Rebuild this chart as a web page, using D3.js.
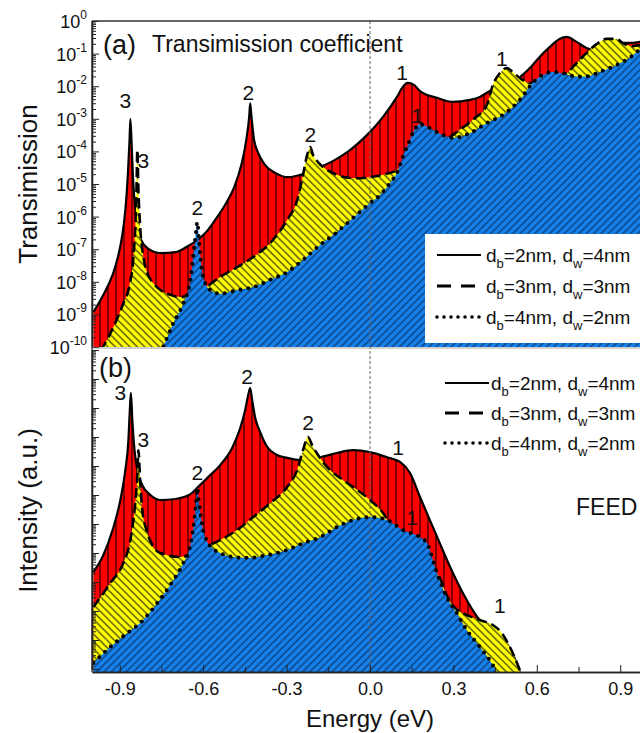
<!DOCTYPE html>
<html>
<head>
<meta charset="utf-8">
<script src="https://cdn.jsdelivr.net/npm/d3@7"></script>
<style>
  html, body { margin: 0; padding: 0; background: #fff; }
  svg { display: block; font-family: "Liberation Sans", Arial, sans-serif; }
</style>
</head>
<body>
<svg id="chart" width="640" height="733"></svg>
<script>
// ---- Transmission coefficient, panel (a): [energy eV, T] ----
const transSolid = [
  [-0.995,1.17e-9],[-0.959,4.0e-9],[-0.926,1.62e-8],[-0.905,6.6e-8],[-0.891,2.75e-7],
  [-0.880,1.58e-6],[-0.871,1.9e-5],[-0.865,2.24e-4],[-0.862,1.0e-3],[-0.858,2.24e-4],
  [-0.853,1.9e-5],[-0.846,2.3e-6],[-0.837,5.5e-7],[-0.823,1.9e-7],[-0.797,1.02e-7],
  [-0.754,7.6e-8],[-0.700,8.1e-8],[-0.654,1.26e-7],[-0.621,1.9e-7],[-0.589,3.4e-7],
  [-0.557,7.9e-7],[-0.521,2.3e-6],[-0.488,8.1e-6],[-0.463,3.8e-5],[-0.445,2.24e-4],
  [-0.434,1.32e-3],[-0.431,3.0e-3],[-0.427,1.32e-3],[-0.417,2.24e-4],[-0.402,8.9e-5],
  [-0.377,3.8e-5],[-0.341,2.2e-5],[-0.294,1.62e-5],[-0.251,1.9e-5],[-0.180,3.3e-5],
  [-0.126,5.5e-5],[-0.072,1.1e-4],[-0.011,3.16e-4],[0.047,1.15e-3],[0.097,4.7e-3],
  [0.118,9.5e-3],[0.136,1.26e-2],[0.158,1.1e-2],[0.180,7.1e-3],[0.241,4.4e-3],
  [0.298,3.3e-3],[0.359,3.8e-3],[0.395,4.7e-3],[0.431,7.1e-3],[0.485,1.17e-2],
  [0.539,1.9e-2],[0.575,3.6e-2],[0.610,7.9e-2],[0.646,0.158],[0.682,0.282],
  [0.707,0.324],[0.743,0.229],[0.779,0.148],[0.808,0.129],[0.851,0.148],
  [0.880,0.182],[0.908,0.214],[0.944,0.214],[0.970,0.229],[0.999,0.263]
];
const transDashed = [
  [-0.969,8e-11],[-0.959,1.07e-10],[-0.923,4.1e-10],[-0.887,2.24e-9],[-0.865,7.9e-9],
  [-0.851,5.75e-8],[-0.844,5.5e-7],[-0.840,6.6e-6],[-0.837,1.1e-4],[-0.833,6.6e-6],
  [-0.826,3.9e-7],[-0.815,5.75e-8],[-0.801,1.86e-8],[-0.779,9.1e-9],[-0.754,5.6e-9],
  [-0.718,4.0e-9],[-0.682,3.4e-9],[-0.646,4.0e-9],[-0.610,5.2e-9],[-0.574,8.5e-9],
  [-0.539,1.41e-8],[-0.478,2.8e-8],[-0.420,5.75e-8],[-0.359,1.55e-7],[-0.298,7.9e-7],
  [-0.262,3.2e-6],[-0.241,1.9e-5],[-0.226,7.8e-5],[-0.215,1.35e-4],[-0.205,7.8e-5],
  [-0.187,4.7e-5],[-0.154,2.7e-5],[-0.108,1.78e-5],[-0.054,1.5e-5],[0.0,1.62e-5],
  [0.054,2.0e-5],[0.097,2.7e-5],[0.151,7.8e-5],[0.215,1.48e-4],[0.276,2.4e-4],
  [0.323,4.6e-4],[0.377,1.05e-3],[0.420,2.6e-3],[0.442,1.1e-2],[0.467,2.5e-2],
  [0.492,3.6e-2],[0.513,2.75e-2],[0.539,1.78e-2],[0.575,1.26e-2],[0.628,1.35e-2],
  [0.671,1.78e-2],[0.707,2.5e-2],[0.743,5.1e-2],[0.779,0.105],[0.815,0.195],
  [0.851,0.282],[0.887,0.282],[0.908,0.214],[0.944,0.170],[0.970,0.182],[0.999,0.195]
];
const transDotted = [
  [-0.772,4e-11],[-0.743,1.07e-10],[-0.707,5.5e-10],[-0.671,2.24e-9],[-0.646,1.15e-8],
  [-0.636,6.6e-8],[-0.628,2.34e-7],[-0.621,6.8e-7],[-0.616,2.34e-7],[-0.610,5.75e-8],
  [-0.600,1.41e-8],[-0.575,5.6e-9],[-0.539,4.3e-9],[-0.478,5.6e-9],[-0.420,6.9e-9],
  [-0.359,1.15e-8],[-0.298,2.0e-8],[-0.241,4.7e-8],[-0.180,1.35e-7],[-0.118,3.4e-7],
  [-0.061,9.1e-7],[0.0,2.6e-6],[0.036,4.6e-6],[0.072,1.07e-5],[0.097,2.2e-5],
  [0.118,6.8e-5],[0.136,1.58e-4],[0.158,4.3e-4],[0.180,6.9e-4],[0.215,5.2e-4],
  [0.262,3.16e-4],[0.298,2.6e-4],[0.359,3.6e-4],[0.420,7.4e-4],[0.478,1.32e-3],
  [0.539,3.8e-3],[0.585,1.26e-2],[0.621,2.2e-2],[0.657,2.75e-2],[0.693,2.5e-2],
  [0.743,2.0e-2],[0.779,2.0e-2],[0.826,2.75e-2],[0.887,4.5e-2],[0.934,7.4e-2],
  [0.970,0.129],[0.999,0.170]
];

// ---- FEED intensity, panel (b): [energy eV, intensity a.u.] ----
const feedSolid = [
  [-0.995,2.2e-8],[-0.959,8.5e-8],[-0.926,6.2e-7],[-0.898,6.7e-6],[-0.880,7.3e-5],
  [-0.869,7.9e-4],[-0.864,8.5e-3],[-0.860,3.3e-2],[-0.855,3.9e-3],[-0.847,3.5e-4],
  [-0.837,7.3e-5],[-0.819,2.2e-5],[-0.790,1.0e-5],[-0.754,6.7e-6],[-0.700,7.3e-6],
  [-0.646,1.07e-5],[-0.618,1.9e-5],[-0.585,3.9e-5],[-0.539,1.07e-4],[-0.496,4.2e-4],
  [-0.467,2.0e-3],[-0.449,8.5e-3],[-0.438,2.8e-2],[-0.431,4.9e-2],[-0.424,1.9e-2],
  [-0.413,4.6e-3],[-0.395,1.48e-3],[-0.370,4.6e-4],[-0.334,2.4e-4],[-0.298,1.9e-4],
  [-0.251,1.6e-4],[-0.180,2.0e-4],[-0.119,2.8e-4],[-0.061,3.5e-4],[0.0,3.0e-4],
  [0.061,2.0e-4],[0.108,1.38e-4],[0.144,5.7e-5],[0.180,8.5e-6],[0.215,1.38e-6],
  [0.251,2.2e-7],[0.287,3.5e-8],[0.348,2.4e-9],[0.395,4.9e-10],[0.442,2.8e-10],
  [0.474,1.26e-10],[0.510,3.9e-11],[0.539,7.9e-12]
];
const feedDashed = [
  [-0.995,1.38e-9],[-0.934,9.3e-9],[-0.887,4.6e-8],[-0.862,2.8e-7],[-0.847,3.0e-6],
  [-0.838,3.3e-5],[-0.833,3.5e-4],[-0.827,3.3e-5],[-0.819,3.0e-6],[-0.804,6.2e-7],
  [-0.783,1.9e-7],[-0.754,1.0e-7],[-0.682,7.3e-8],[-0.628,1.07e-7],[-0.585,1.74e-7],
  [-0.539,2.8e-7],[-0.478,6.2e-7],[-0.420,1.74e-6],[-0.359,5.2e-6],[-0.298,1.9e-5],
  [-0.262,7.3e-5],[-0.241,3.5e-4],[-0.223,1.0e-3],[-0.208,5.2e-4],[-0.187,2.4e-4],
  [-0.144,7.3e-5],[-0.097,3.3e-5],[-0.061,1.9e-5],[0.0,6.7e-6],[0.047,2.4e-6],
  [0.079,7.3e-7],[0.126,2.8e-7],[0.215,5.0e-8],[0.251,1.4e-8],[0.276,3.5e-9],
  [0.305,1.3e-9],[0.334,8.5e-10],[0.395,4.9e-10],[0.442,3.3e-10],[0.474,1.74e-10],
  [0.503,5.8e-11],[0.539,9.3e-12]
];
const feedDotted = [
  [-0.995,1.6e-11],[-0.934,5.8e-11],[-0.873,1.74e-10],[-0.826,3.9e-10],[-0.765,1.9e-9],
  [-0.707,1.17e-8],[-0.671,4.6e-8],[-0.646,1.9e-7],[-0.632,1.38e-6],[-0.625,6.7e-6],
  [-0.621,1.74e-5],[-0.616,6.7e-6],[-0.607,1.38e-6],[-0.592,3.5e-7],[-0.567,1.48e-7],
  [-0.539,1.0e-7],[-0.492,7.3e-8],[-0.431,6.8e-8],[-0.370,8.5e-8],[-0.298,1.26e-7],
  [-0.241,2.2e-7],[-0.180,3.5e-7],[-0.119,7.9e-7],[-0.061,1.38e-6],[0.0,1.74e-6],
  [0.061,1.38e-6],[0.118,6.2e-7],[0.180,3.5e-7],[0.205,2.2e-7],[0.241,2.0e-8],
  [0.276,3.0e-9],[0.312,8.5e-10],[0.348,2.2e-10],[0.395,5.8e-11],[0.431,2.0e-11],
  [0.456,7.9e-12]
];

// Resonance order labels: [energy, value, text]
const labelsA = [
  [-0.880,2.1e-3,"3"],[-0.815,3.1e-5,"3"],[-0.621,1.1e-6,"2"],[-0.438,3.8e-3,"2"],
  [-0.215,1.9e-4,"2"],[0.115,1.55e-2,"1"],[0.169,7.4e-4,"1"],[0.474,4.2e-2,"1"]
];
const labelsB = [
  [-0.898,1.9e-2,"3"],[-0.815,4.6e-4,"3"],[-0.621,3.3e-5,"2"],[-0.442,6.7e-2,"2"],
  [-0.223,1.74e-3,"2"],[0.101,2.4e-4,"1"],[0.151,9.3e-7,"1"],[0.467,8.5e-10,"1"]
];

// Structures: barrier / well widths (nm)
const structures = [
  { db: 2, dw: 4, style: "solid" },
  { db: 3, dw: 3, style: "dashed" },
  { db: 4, dw: 2, style: "dotted" }
];
const xTickLabels = [-0.9, -0.6, -0.3, 0.0, 0.3, 0.6, 0.9];
const xMinorTicks = [-0.75, -0.45, -0.15, 0.15, 0.45, 0.75];
const yExponentsA = d3.range(0, -11, -1);

// ---------------- layout ----------------
const svg = d3.select("#chart");
const L = 92, R = 648, TOP = 21, MID = 347, BOT = 672;

const x = d3.scaleLinear().domain([-1, 1]).range([L, R]);
const yA = d3.scaleLog().domain([1e-10, 1]).range([MID, TOP]);
const yB = d3.scaleLog().domain([1e-11, 1]).range([669, 350]);

const defs = svg.append("defs");
function hatch(id, fill, stroke, angle, size) {
  const p = defs.append("pattern").attr("id", id)
    .attr("patternUnits", "userSpaceOnUse")
    .attr("width", size).attr("height", size)
    .attr("patternTransform", `rotate(${angle})`);
  p.append("rect").attr("width", size).attr("height", size).attr("fill", fill);
  p.append("line").attr("x1", size / 2).attr("x2", size / 2)
    .attr("y1", 0).attr("y2", size)
    .attr("stroke", stroke).attr("stroke-width", 1);
}
hatch("hRed", "#ff0000", "#000", 0, 8);
hatch("hYel", "#ffff00", "#111", -45, 5.2);
hatch("hBlu", "#1580ea", "#0d2750", 45, 5.2);

defs.append("clipPath").attr("id", "clipA").append("rect")
  .attr("x", L).attr("y", TOP).attr("width", R - L).attr("height", MID - TOP);
defs.append("clipPath").attr("id", "clipB").append("rect")
  .attr("x", L).attr("y", MID + 1).attr("width", R - L).attr("height", BOT - MID - 1);

const fills = { solid: "url(#hRed)", dashed: "url(#hYel)", dotted: "url(#hBlu)" };
function lineStyle(sel, style) {
  sel.attr("fill", "none").attr("stroke", "#000");
  if (style === "solid") sel.attr("stroke-width", 2.2);
  if (style === "dashed") sel.attr("stroke-width", 2.6).attr("stroke-dasharray", "10,5");
  if (style === "dotted") sel.attr("stroke-width", 4).attr("stroke-linecap", "round")
    .attr("stroke-dasharray", "0,8");
}

function drawPanel(clipId, y, series, baseY) {
  const g = svg.append("g").attr("clip-path", `url(#${clipId})`);
  const area = d3.area().x(d => x(d[0])).y0(baseY).y1(d => y(d[1])).curve(d3.curveMonotoneX);
  const line = d3.line().x(d => x(d[0])).y(d => y(d[1])).curve(d3.curveMonotoneX);
  series.forEach(s => {
    g.append("path").datum(s.data).attr("d", area).attr("fill", fills[s.style]);
    g.append("path").datum(s.data).attr("d", line).call(lineStyle, s.style);
  });
  return g;
}

drawPanel("clipA", yA, [
  { data: transSolid, style: "solid" },
  { data: transDashed, style: "dashed" },
  { data: transDotted, style: "dotted" }
], MID + 2);

drawPanel("clipB", yB, [
  { data: feedSolid, style: "solid" },
  { data: feedDashed, style: "dashed" },
  { data: feedDotted, style: "dotted" }
], BOT + 2);

// zero-energy reference line
svg.append("line").attr("x1", x(0)).attr("x2", x(0)).attr("y1", TOP).attr("y2", BOT)
  .attr("stroke", "#666").attr("stroke-width", 1).attr("stroke-dasharray", "3,2");

// ---------------- legends ----------------
function legend(lx, ly, gap, textX) {
  structures.forEach((s, i) => {
    const yy = ly + i * gap;
    const ln = svg.append("line").attr("x1", lx).attr("x2", lx + 44).attr("y1", yy).attr("y2", yy);
    lineStyle(ln, s.style);
    if (s.style === "dashed") ln.attr("stroke-dasharray", "14,10").attr("stroke-width", 3);
    if (s.style === "dotted") ln.attr("stroke-dasharray", "0,7").attr("stroke-width", 3.6);
    const t = svg.append("text").attr("x", textX).attr("y", yy + 7)
      .attr("font-size", 19).attr("fill", "#111");
    t.append("tspan").text("d");
    t.append("tspan").attr("font-size", 13).attr("dy", 6).text("b");
    t.append("tspan").attr("dy", -6).text(`=${s.db}nm, d`);
    t.append("tspan").attr("font-size", 13).attr("dy", 6).text("w");
    t.append("tspan").attr("dy", -6).text(`=${s.dw}nm`);
  });
}
svg.append("rect").attr("x", 425).attr("y", 234).attr("width", 230).attr("height", 109)
  .attr("fill", "#fff");
legend(437, 255, 31, 486);
legend(445, 383, 30, 491);

// ---------------- axes ----------------
const axisCol = "#222";
function styleAxis(g) {
  g.selectAll("path").attr("stroke", axisCol).attr("stroke-width", 1.3);
  g.selectAll("line").attr("stroke", axisCol).attr("stroke-width", 1);
}
function logTicks(lo, hi) {
  const out = [];
  for (let k = lo; k < hi; k++) for (let m = 2; m <= 9; m++) out.push(m * Math.pow(10, k));
  return out;
}
// panel (a) left axis
svg.append("g").attr("transform", `translate(${L},0)`)
  .call(d3.axisLeft(yA).tickValues(logTicks(-10, 0)).tickSizeInner(-4).tickSizeOuter(0).tickFormat(""))
  .call(styleAxis);
svg.append("g").attr("transform", `translate(${L},0)`)
  .call(d3.axisLeft(yA).tickValues(yExponentsA.map(e => Math.pow(10, e))).tickSizeInner(-7).tickSizeOuter(0).tickFormat(""))
  .call(styleAxis);
yExponentsA.forEach(e => {
  const t = svg.append("text").attr("x", 87).attr("y", yA(Math.pow(10, e)) + 7)
    .attr("text-anchor", "end").attr("font-size", 18).attr("fill", "#111");
  t.append("tspan").text("10");
  t.append("tspan").attr("font-size", 12).attr("dy", -9).text(e === 0 ? "0" : "-" + (-e));
});
// panel (b) left axis
svg.append("g").attr("transform", `translate(${L},0)`)
  .call(d3.axisLeft(yB).tickValues(logTicks(-11, 0)).tickSizeInner(-4).tickSizeOuter(0).tickFormat(""))
  .call(styleAxis);
svg.append("g").attr("transform", `translate(${L},0)`)
  .call(d3.axisLeft(yB).tickValues(d3.range(-11, 1).map(e => Math.pow(10, e))).tickSizeInner(-7).tickSizeOuter(0).tickFormat(""))
  .call(styleAxis);
// left spine across both panels
svg.append("line").attr("x1", L).attr("x2", L).attr("y1", TOP).attr("y2", BOT)
  .attr("stroke", axisCol).attr("stroke-width", 1.3);
// top frame and panel divider
svg.append("line").attr("x1", L).attr("x2", R).attr("y1", TOP).attr("y2", TOP)
  .attr("stroke", "#333").attr("stroke-width", 1.3);
svg.append("line").attr("x1", L).attr("x2", R).attr("y1", MID + 1).attr("y2", MID + 1)
  .attr("stroke", "#888").attr("stroke-width", 0.8);

// bottom energy axis
const xa = svg.append("g").attr("transform", `translate(0,${BOT})`)
  .call(d3.axisBottom(x).tickValues(xTickLabels).tickSizeInner(-7).tickSizeOuter(0)
    .tickPadding(10).tickFormat(d => d.toFixed(1)))
  .call(styleAxis);
xa.selectAll("text").attr("font-size", 18).attr("fill", "#111")
  .attr("font-family", "'Liberation Sans', Arial, sans-serif");
svg.append("g").attr("transform", `translate(0,${BOT})`)
  .call(d3.axisBottom(x).tickValues(xMinorTicks).tickSizeInner(-5).tickSizeOuter(0).tickFormat(""))
  .call(styleAxis);

// ---------------- text ----------------
svg.append("text").attr("x", 103).attr("y", 54).attr("font-size", 27).attr("fill", "#111").text("(a)");
svg.append("text").attr("x", 152).attr("y", 52).attr("font-size", 23).attr("fill", "#111").text("Transimission coefficient");
svg.append("text").attr("x", 99).attr("y", 377).attr("font-size", 27).attr("fill", "#111").text("(b)");
svg.append("text").attr("x", 576).attr("y", 515).attr("font-size", 23).attr("fill", "#111").text("FEED");

function peakLabels(list, y) {
  list.forEach(d => {
    svg.append("text").attr("x", x(d[0])).attr("y", y(d[1]))
      .attr("text-anchor", "middle").attr("font-size", 21).attr("fill", "#111").text(d[2]);
  });
}
peakLabels(labelsA, yA);
peakLabels(labelsB, yB);

svg.append("text").attr("transform", `translate(37,${(TOP + MID) / 2}) rotate(-90)`)
  .attr("text-anchor", "middle").attr("font-size", 26).attr("fill", "#111").text("Transimission");
svg.append("text").attr("transform", `translate(37,${(MID + BOT) / 2 + 1}) rotate(-90)`)
  .attr("text-anchor", "middle").attr("font-size", 26).attr("fill", "#111").text("Intensity (a.u.)");
svg.append("text").attr("x", x(0)).attr("y", 727)
  .attr("text-anchor", "middle").attr("font-size", 24).attr("fill", "#111").text("Energy (eV)");
</script>
</body>
</html>
